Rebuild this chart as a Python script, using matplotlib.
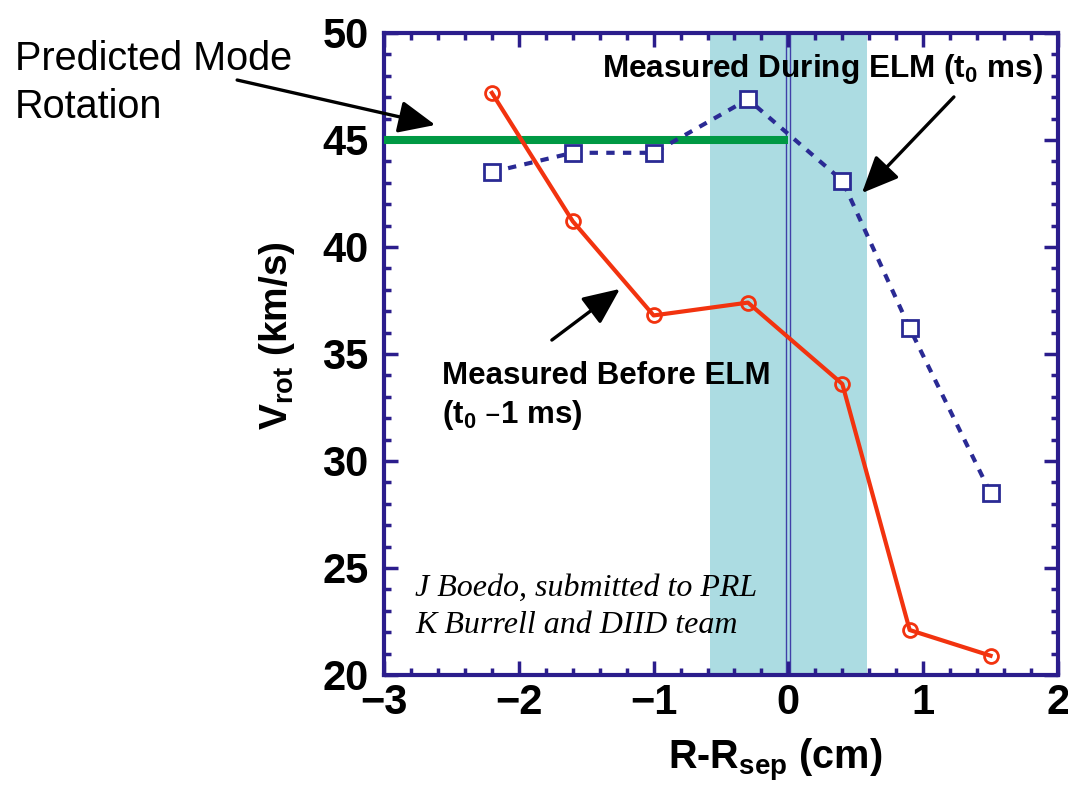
import matplotlib
matplotlib.use("Agg")
import matplotlib.pyplot as plt
from matplotlib.ticker import MultipleLocator

# data
r_pos = [-2.2, -1.6, -1.0, -0.3, 0.4, 0.9, 1.5]
v_before = [47.2, 41.2, 36.8, 37.4, 33.6, 22.1, 20.9]
v_during = [43.5, 44.4, 44.4, 46.9, 43.1, 36.2, 28.5]
pred_x = [-3.0, 0.0]
pred_v = [45.0, 45.0]
band = [-0.58, 0.58]
sep_x = 0.0

navy = "#2b1d8c"
red = "#f2330f"
blue = "#2a2a94"
green = "#009944"
cyan = "#acdce2"

sans = ["Liberation Sans", "DejaVu Sans"]
serif = ["Liberation Serif", "DejaVu Serif"]

fig = plt.figure(figsize=(10.68, 7.90), dpi=100)
ax = fig.add_axes([0.3596, 0.1456, 0.631, 0.8127])

# shaded ELM region and separatrix
ax.axvspan(band[0], band[1], color=cyan, lw=0, zorder=0)
ax.axvline(sep_x - 0.017, color="#4040a8", lw=1.0, zorder=1)
ax.axvline(sep_x + 0.015, color="#4040a8", lw=1.0, zorder=1)

# predicted mode rotation
ax.plot(pred_x, pred_v, color=green, lw=5.8, solid_capstyle="butt", zorder=3)

# measured during ELM
ax.plot(r_pos, v_during, color=blue, lw=3.0, dashes=(2.0, 2.0),
        marker="s", ms=11.5, mfc="white", mec=blue, mew=2.0, zorder=4)

# measured before ELM
ax.plot(r_pos, v_before, color=red, lw=3.0, marker="o", ms=10,
        mfc="none", mec=red, mew=2.0, zorder=5)

ax.set_xlim(-3, 2)
ax.set_ylim(20, 50)
ax.xaxis.set_major_locator(MultipleLocator(1))
ax.xaxis.set_minor_locator(MultipleLocator(0.2))
ax.yaxis.set_major_locator(MultipleLocator(5))
ax.yaxis.set_minor_locator(MultipleLocator(1))
ax.tick_params(which="both", direction="in", top=True, right=True,
               color=navy, width=2.5)
ax.tick_params(which="major", length=10)
ax.tick_params(which="minor", length=5)
ax.tick_params(axis="x", which="major", pad=6)
ax.tick_params(axis="y", which="major", pad=11)
for lab in ax.get_xticklabels() + ax.get_yticklabels():
    lab.set_family(sans)
    lab.set_fontweight("bold")
    lab.set_fontsize(30)
for s in ax.spines.values():
    s.set_color(navy)
    s.set_linewidth(3)

ax.set_xlabel("R-R$_{\\mathregular{sep}}$ (cm)", fontsize=28.5, fontweight="bold",
              family=sans)
ax.xaxis.set_label_coords(0.58, -0.097)
ax.set_ylabel("V$_{\\mathregular{rot}}$ (km/s)", fontsize=28, fontweight="bold",
              family=sans)
ax.yaxis.set_label_coords(-0.129, 0.528)

# annotations
arrow = dict(arrowstyle="-|>,head_length=0.9,head_width=0.4", color="black",
             lw=2.4, mutation_scale=25, shrinkA=0, shrinkB=0)
fig.text(15 / 1068, 1 - 70 / 790, "Predicted Mode", fontsize=28.5,
         family=sans, va="baseline", ha="left")
fig.text(15 / 1068, 1 - 118 / 790, "Rotation", fontsize=28.5,
         family=sans, va="baseline", ha="left")
ax.annotate("", xy=(-2.62, 45.7), xytext=(-4.09, 47.8), arrowprops=arrow,
            annotation_clip=False)

ax.text(-1.38, 47.94, "Measured During ELM (t$_{\\mathregular{0}}$ ms)",
        fontsize=22.7, fontweight="bold", family=sans, va="baseline",
        zorder=6)
ax.annotate("", xy=(0.546, 42.52), xytext=(1.228, 47.01), arrowprops=arrow,
            zorder=6)

ax.text(-2.57, 33.6, "Measured Before ELM", fontsize=22.5, fontweight="bold",
        family=sans, va="baseline", zorder=6)
ax.text(-2.57, 31.78, "(t$_{\\mathregular{0}}$ \u20131 ms)", fontsize=22.5,
        fontweight="bold", family=sans, va="baseline", zorder=6)
ax.annotate("", xy=(-1.25, 38.04), xytext=(-1.755, 35.65), arrowprops=arrow,
            zorder=6)

ax.text(-2.77, 24.05, "J Boedo, submitted to PRL", fontsize=23,
        style="italic", family=serif, va="center", zorder=6)
ax.text(-2.77, 22.3, "K Burrell and DIID team", fontsize=23,
        style="italic", family=serif, va="center", zorder=6)

fig.savefig("out.png", dpi=100)
